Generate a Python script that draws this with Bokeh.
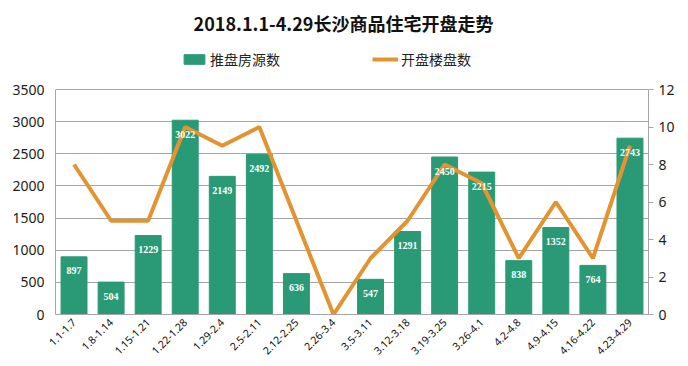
import math
from bokeh.plotting import figure
from bokeh.models import (ColumnDataSource, Range1d, LinearAxis, LabelSet, Label,
                          Legend, LegendItem, FixedTicker, FactorRange)
from bokeh.embed import file_html
from bokeh.resources import INLINE

weeks = ["1.1-1.7", "1.8-1.14", "1.15-1.21", "1.22-1.28", "1.29-2.4", "2.5-2.11",
         "2.12-2.25", "2.26-3.4", "3.5-3.11", "3.12-3.18", "3.19-3.25", "3.26-4.1",
         "4.2-4.8", "4.9-4.15", "4.16-4.22", "4.23-4.29"]
supply = [897, 504, 1229, 3022, 2149, 2492, 636, 0, 547, 1291, 2450, 2215, 838, 1352, 764, 2743]
opened = [8, 5, 5, 10, 9, 10, 5, 0, 3, 5, 8, 7, 3, 6, 3, 9]
left_ticks = [0, 500, 1000, 1500, 2000, 2500, 3000, 3500]
right_ticks = [0, 2, 4, 6, 8, 10, 12]

title = "2018.1.1-4.29长沙商品住宅开盘走势"
bar_name = "推盘房源数"
line_name = "开盘楼盘数"

GREEN = "#2a9a76"
ORANGE = "#e39430"
GRID = "#a6a6a6"
NUMF = "Noto Sans"
LABF = "DejaVu Sans"
CJK = "Noto Sans CJK SC"

# layout (pixels): frame spans full height above the x-axis; value area is the lower part
FIG_W = 680
FIG_H = 366
BOTTOM = 52
FRAME_H = FIG_H - BOTTOM
VALUE_H = 225
left_max = left_ticks[-1]
right_max = right_ticks[-1]

src = ColumnDataSource(dict(
    week=weeks, supply=supply, opened=opened,
    lab=[str(v) if v > 0 else "" for v in supply],
))

p = figure(width=FIG_W, height=FIG_H, x_range=FactorRange(*weeks),
           y_range=Range1d(0, left_max * FRAME_H / VALUE_H),
           output_backend="svg", toolbar_location=None,
           min_border_left=55, min_border_right=FIG_W - 648, min_border_top=0,
           min_border_bottom=BOTTOM)
p.extra_y_ranges = {"right": Range1d(0, right_max * FRAME_H / VALUE_H)}
p.outline_line_color = None
p.background_fill_color = "white"

bars = p.vbar(x="week", top="supply", width=0.7, source=src, color=GREEN)
line = p.line(x="week", y="opened", source=src, line_color=ORANGE, line_width=4,
              y_range_name="right")

labels = LabelSet(x="week", y="supply", text="lab", source=src, y_offset=-14,
                  text_align="center", text_baseline="middle", text_color="white",
                  text_font=LABF, text_font_size="10px", text_font_style="bold")
p.add_layout(labels)

# axes
p.yaxis.ticker = FixedTicker(ticks=left_ticks)
p.yaxis.bounds = (0, left_max)
p.yaxis.axis_line_color = GRID
p.yaxis.major_tick_line_color = None
p.yaxis.minor_tick_line_color = None
p.yaxis.major_label_text_font = NUMF
p.yaxis.major_label_text_font_size = "14px"
p.yaxis.major_label_text_color = "#222222"

ry = LinearAxis(y_range_name="right", ticker=FixedTicker(ticks=right_ticks),
                bounds=(0, right_max))
ry.axis_line_color = GRID
ry.major_tick_line_color = GRID
ry.major_tick_out = 5
ry.major_tick_in = 0
ry.minor_tick_line_color = None
ry.major_label_text_font = NUMF
ry.major_label_text_font_size = "14px"
ry.major_label_text_color = "#222222"
p.add_layout(ry, "right")

p.xaxis.axis_line_color = GRID
p.xaxis.major_tick_line_color = None
p.xaxis.major_tick_out = 0
p.xaxis.major_tick_in = 0
p.xaxis.minor_tick_line_color = None
p.xaxis.minor_tick_out = 0
p.xaxis.major_label_orientation = math.pi / 4
p.xaxis.major_label_text_font = NUMF
p.xaxis.major_label_text_font_size = "10.5px"
p.xaxis.major_label_text_color = "#111111"
p.xaxis.major_label_standoff = 6

p.xgrid.grid_line_color = None
p.ygrid.grid_line_color = GRID
p.ygrid.ticker = FixedTicker(ticks=left_ticks)

# title
p.add_layout(Label(x=288, y=FRAME_H - 22, x_units="screen", y_units="screen", text=title,
                   text_align="center", text_baseline="middle",
                   text_font=CJK, text_font_size="18px", text_font_style="bold",
                   text_color="#111111"))

legend = Legend(items=[LegendItem(label=bar_name, renderers=[bars]),
                       LegendItem(label=line_name, renderers=[line])],
                orientation="horizontal", location=(126, FRAME_H - 69),
                spacing=92, padding=0, margin=0, glyph_width=26, glyph_height=12,
                label_standoff=3, border_line_color=None,
                background_fill_alpha=0,
                label_text_font=CJK, label_text_font_size="14px",
                label_text_color="#222222")
p.add_layout(legend)

open("out.html", "w").write(file_html(p, INLINE))
